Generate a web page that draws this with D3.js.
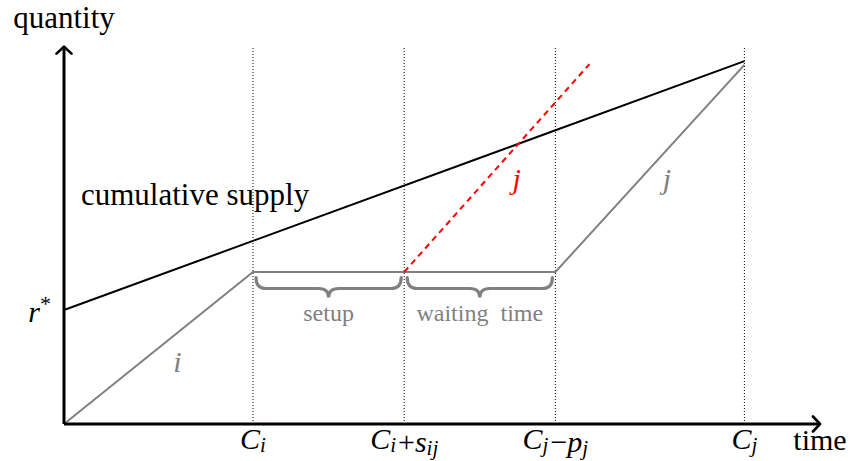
<!DOCTYPE html>
<html>
<head>
<meta charset="utf-8">
<script src="https://cdn.jsdelivr.net/npm/d3@7"></script>
<style>
  body { margin: 0; background: #fff; }
</style>
</head>
<body>
<div id="chart"></div>
<script>
////////////////// Data ////////////////////
// time positions of the marked instants, and their labels
var tickTimes = [1, 1.8, 2.6, 3.6];
var tickLabels = [
  [["C", "i"]],
  [["C", "i"], ["+"], ["s", "ij"]],
  [["C", "j"], ["\u2212"], ["p", "j"]],
  [["C", "j"]]
];

// cumulative supply line (starts at r*)
var supplyT = [0, 3.6];
var supplyQ = [3, 9.55];
var rStar = 3;

// production of i, setup + waiting, then production of j
var jobT = [0, 1, 2.6, 3.6];
var jobQ = [0, 4, 4, 9.45];

// j started right after setup (dashed red)
var earlyT = [1.8, 2.78];
var earlyQ = [4, 9.47];

// braces under the flat part
var braceFrom = [1, 1.8];
var braceTo = [1.8, 2.6];
var braceText = ["setup", "waiting\u2002time"];

var tMax = 4;
var qMax = 9.93;

////////////////// Chart Parameters ////////////////////
var svgWidth = 850;
var svgHeight = 461;
var gray = "#808080";
var font = "'Liberation Serif', 'Times New Roman', Tinos, serif";

var svg = d3.select("#chart").append("svg")
  .attr("width", svgWidth)
  .attr("height", svgHeight);

var x = d3.scaleLinear().domain([0, tMax]).range([64, 820]);
var y = d3.scaleLinear().domain([0, 10]).range([424, 44]);

var line = d3.line()
  .x(d => x(d[0]))
  .y(d => y(d[1]));

// every text gets the serif family directly
function label(sel, size) {
  return sel.append("text")
    .attr("font-family", font)
    .style("font-family", font, "important")
    .attr("font-size", size);
}

////////// Dotted guides ////////////////////
svg.selectAll("line.guide")
  .data(tickTimes)
  .enter()
  .append("line")
  .attr("class", "guide")
  .attr("x1", d => x(d)).attr("x2", d => x(d))
  .attr("y1", y(0)).attr("y2", y(qMax))
  .attr("stroke", "#000")
  .attr("stroke-width", 1)
  .attr("stroke-dasharray", "1,2");

////////// Curves ////////////////////
svg.append("path")
  .datum(supplyT.map((t, i) => [t, supplyQ[i]]))
  .attr("d", line)
  .attr("fill", "none")
  .attr("stroke", "#000")
  .attr("stroke-width", 2);

svg.append("path")
  .datum(jobT.map((t, i) => [t, jobQ[i]]))
  .attr("d", line)
  .attr("fill", "none")
  .attr("stroke", gray)
  .attr("stroke-width", 2);

svg.append("path")
  .datum(earlyT.map((t, i) => [t, earlyQ[i]]))
  .attr("d", line)
  .attr("fill", "none")
  .attr("stroke", "#ff0000")
  .attr("stroke-width", 2)
  .attr("stroke-dasharray", "6,4.5");

////////// Braces ////////////////////
var yTop = y(jobQ[1]) + 5.5, yFlat = yTop + 11, yTip = yTop + 20, r = 10;
function bracePath(a, b) {
  var x0 = x(a) + 3, x1 = x(b) - 3, xm = (x0 + x1) / 2;
  return "M" + x0 + "," + yTop +
    "Q" + x0 + "," + yFlat + " " + (x0 + r) + "," + yFlat +
    "H" + (xm - r) +
    "Q" + xm + "," + yFlat + " " + xm + "," + yTip +
    "Q" + xm + "," + yFlat + " " + (xm + r) + "," + yFlat +
    "H" + (x1 - r) +
    "Q" + x1 + "," + yFlat + " " + x1 + "," + yTop;
}
svg.selectAll("path.brace")
  .data(braceFrom)
  .enter()
  .append("path")
  .attr("class", "brace")
  .attr("d", (d, i) => bracePath(d, braceTo[i]))
  .attr("fill", "none")
  .attr("stroke", gray)
  .attr("stroke-width", 3.2)
  .attr("stroke-linecap", "round");

braceText.forEach(function (d, i) {
  label(svg, 24)
    .attr("x", (x(braceFrom[i]) + x(braceTo[i])) / 2)
    .attr("y", yTip + 23)
    .attr("text-anchor", "middle")
    .attr("fill", gray)
    .text(d);
});

////////// Axes with arrows ////////////////////
svg.append("path")
  .attr("d", "M" + x(0) + "," + y(0) + "H" + x(tMax) + "M" + x(0) + "," + y(0) + "V" + y(qMax))
  .attr("fill", "none")
  .attr("stroke", "#000")
  .attr("stroke-width", 3);

svg.append("path")
  .attr("d",
    "M" + (x(tMax) - 7) + "," + (y(0) - 7.5) + "L" + x(tMax) + "," + y(0) + "L" + (x(tMax) - 7) + "," + (y(0) + 7.5) +
    "M" + (x(0) - 7.5) + "," + (y(qMax) + 7) + "L" + x(0) + "," + y(qMax) + "L" + (x(0) + 7.5) + "," + (y(qMax) + 7))
  .attr("fill", "none")
  .attr("stroke", "#000")
  .attr("stroke-width", 2.6)
  .attr("stroke-linecap", "round")
  .attr("stroke-linejoin", "round");

////////// Tick labels (math) ////////////////////
tickTimes.forEach(function (d, i) {
  var t = label(svg, 30)
    .attr("x", x(d))
    .attr("y", 449)
    .attr("text-anchor", "middle");
  tickLabels[i].forEach(function (part) {
    if (part.length === 1) {
      t.append("tspan").attr("dx", 2).text(part[0]);
      t.append("tspan").attr("dx", 2).text("");
    } else {
      t.append("tspan").attr("font-style", "italic").text(part[0]);
      t.append("tspan").attr("font-style", "italic").attr("font-size", 21)
        .attr("dy", 3).text(part[1]);
      t.append("tspan").attr("dy", -3).text("");
    }
  });
});

label(svg, 30)
  .attr("x", x(tMax))
  .attr("y", 450)
  .attr("text-anchor", "middle")
  .text("time");

label(svg, 31)
  .attr("x", x(0))
  .attr("y", 28)
  .attr("text-anchor", "middle")
  .text("quantity");

var rs = label(svg, 30)
  .attr("x", x(0) - 13)
  .attr("y", y(rStar) + 12)
  .attr("text-anchor", "end");
rs.append("tspan").attr("font-style", "italic").text("r");
rs.append("tspan").attr("font-size", 22).attr("dy", -11).text("*");

////////// Curve labels ////////////////////
label(svg, 31)
  .attr("x", x(0.09))
  .attr("y", y(5.76))
  .text("cumulative supply");

label(svg, 30)
  .attr("x", x(0.6))
  .attr("y", y(1.37))
  .attr("text-anchor", "middle")
  .attr("font-style", "italic")
  .attr("fill", gray)
  .text("i");

label(svg, 30)
  .attr("x", x(2.395))
  .attr("y", y(6.18))
  .attr("text-anchor", "middle")
  .attr("font-style", "italic")
  .attr("fill", "#ff0000")
  .text("j");

label(svg, 30)
  .attr("x", x(3.19))
  .attr("y", y(6.18))
  .attr("text-anchor", "middle")
  .attr("font-style", "italic")
  .attr("fill", gray)
  .text("j");
</script>
</body>
</html>
